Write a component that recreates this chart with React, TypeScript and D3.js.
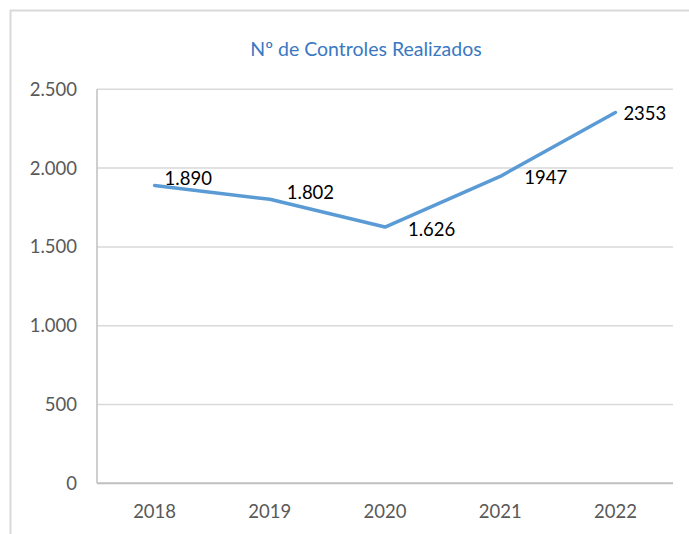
import React from "react";
import * as d3 from "d3";

const years = ["2018", "2019", "2020", "2021", "2022"];
const values = [1890, 1802, 1626, 1947, 2353];
const valueLabels = ["1.890", "1.802", "1.626", "1947", "2353"];
const yTicks = [0, 500, 1000, 1500, 2000, 2500];
const yTickLabels = ["0", "500", "1.000", "1.500", "2.000", "2.500"];
const labelOffsets: [number, number][] = [
  [10, 0],
  [17, 0],
  [23, 9],
  [24, 7.5],
  [8, 7.5],
];

const W = 689;
const H = 534;
const FONT = "Lato, 'Open Sans', sans-serif";

export default function App() {
  const left = 97;
  const right = 673;
  const top = 89.3;
  const bottom = 483.3;

  const x = d3.scaleBand<string>().domain(years).range([left, right]);
  const y = d3.scaleLinear().domain([0, 2500]).range([bottom, top]);
  const cx = (yr: string) => (x(yr) as number) + x.bandwidth() / 2;

  const line = d3
    .line<number>()
    .x((_, i) => cx(years[i]))
    .y((d) => y(d));

  return (
    <svg
      width={W}
      height={H}
      style={{ position: "absolute", left: 0, top: 0, background: "#fff" }}
    >
      <rect x={0} y={0} width={W} height={H} fill="#fff" />
      {/* outer chart border */}
      <path d={`M10.5,${H + 5} V10.5 H${W + 5}`} fill="none" stroke="#D9D9D9" strokeWidth={2} />
      <text
        x={366}
        y={56}
        textAnchor="middle"
        fontFamily={FONT}
        fontSize={19.5}
        fill="#3A78C2"
      >
        Nº de Controles Realizados
      </text>
      {/* gridlines */}
      {yTicks.map((t) =>
        t === 0 ? null : (
          <line
            key={t}
            x1={left}
            x2={right}
            y1={y(t)}
            y2={y(t)}
            stroke="#D9D9D9"
            strokeWidth={1.5}
          />
        )
      )}
      {/* axis lines */}
      <line x1={left} x2={left} y1={top} y2={bottom} stroke="#BFBFBF" strokeWidth={1.5} />
      <line x1={left} x2={right} y1={bottom} y2={bottom} stroke="#BFBFBF" strokeWidth={2} />
      {/* y tick labels */}
      {yTicks.map((t, i) => (
        <text
          key={t}
          x={77}
          y={y(t) + 6.5}
          textAnchor="end"
          fontFamily={FONT}
          fontSize={18.5}
          fill="#595959"
        >
          {yTickLabels[i]}
        </text>
      ))}
      {/* x tick labels */}
      {years.map((yr) => (
        <text
          key={yr}
          x={cx(yr)}
          y={518}
          textAnchor="middle"
          fontFamily={FONT}
          fontSize={18.5}
          fill="#595959"
        >
          {yr}
        </text>
      ))}
      <path
        d={line(values) || ""}
        fill="none"
        stroke="#5B9BD5"
        strokeWidth={3.5}
        strokeLinejoin="round"
        strokeLinecap="round"
      />
      {values.map((v, i) => (
        <text
          key={i}
          x={cx(years[i]) + labelOffsets[i][0]}
          y={y(v) + labelOffsets[i][1]}
          fontFamily={FONT}
          fontSize={18.5}
          fill="#000"
        >
          {valueLabels[i]}
        </text>
      ))}
    </svg>
  );
}
